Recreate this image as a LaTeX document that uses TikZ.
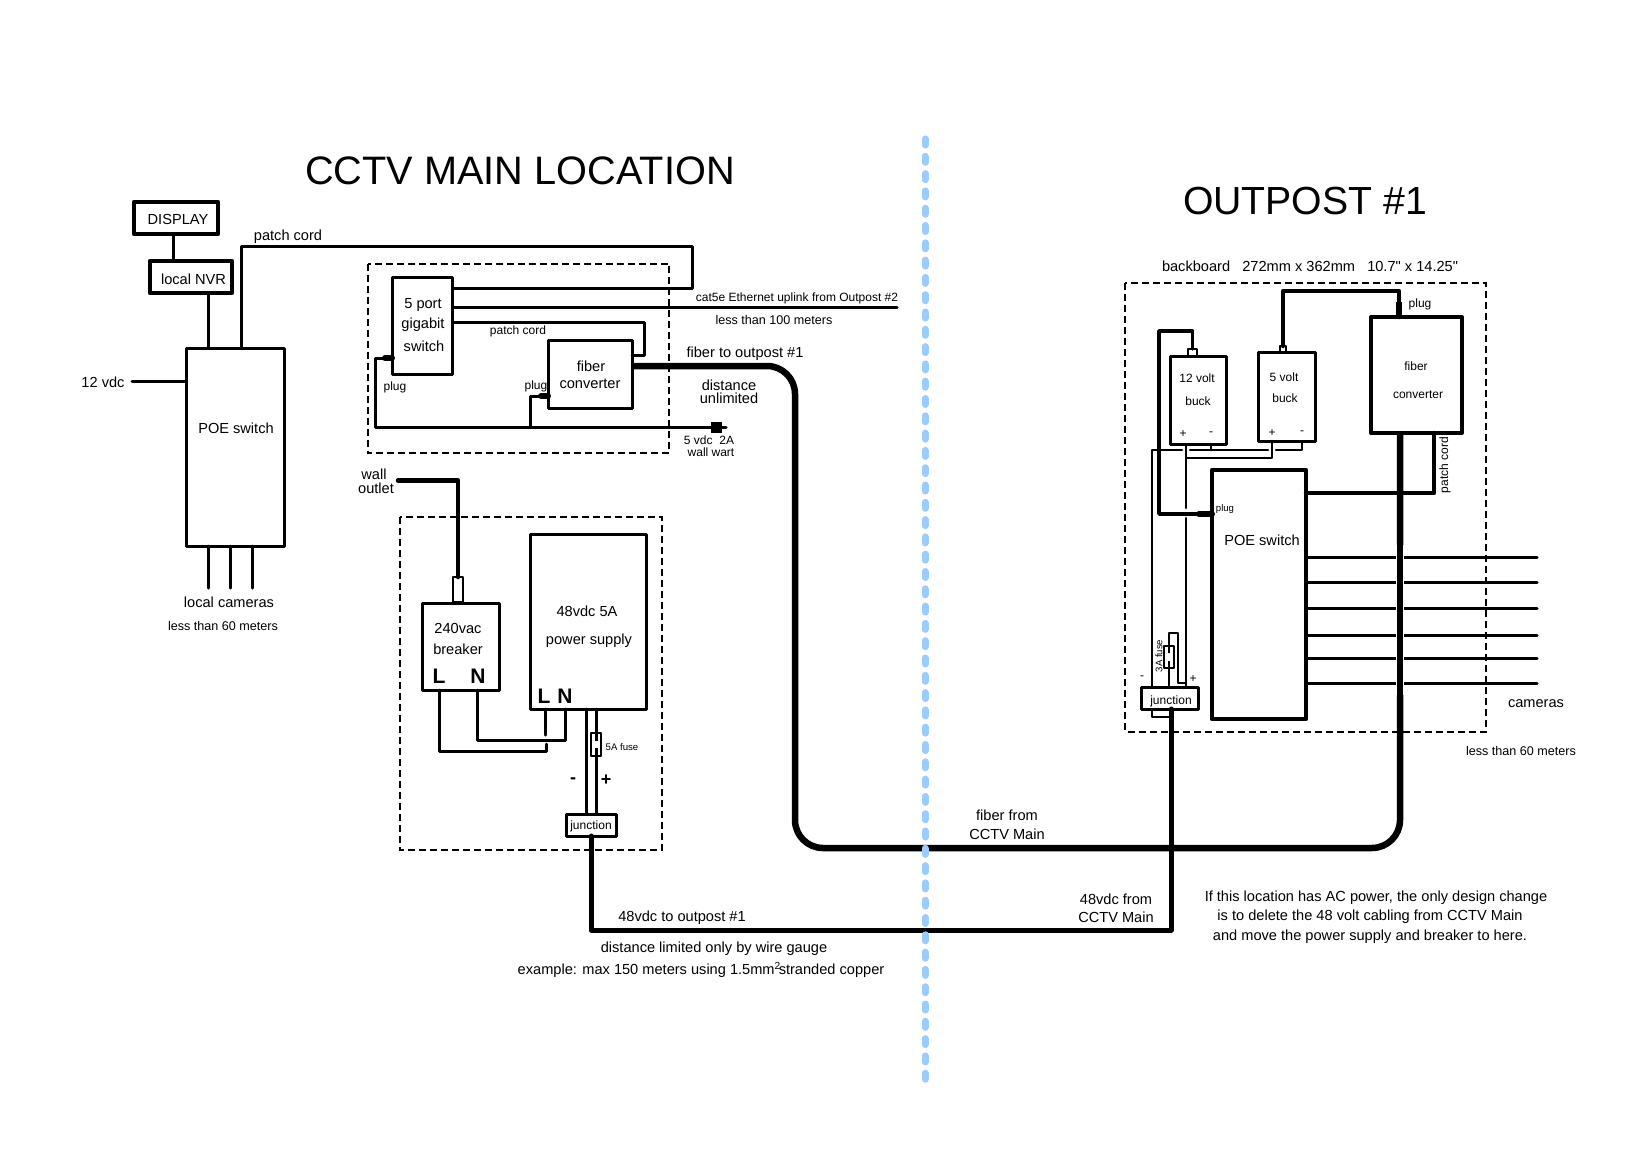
\documentclass[tikz,border=0pt]{standalone}
\usepackage{fontspec}
\setmainfont{Liberation Sans}
\newfontfamily\plainquote{Liberation Sans}
\usetikzlibrary{calc}
\definecolor{divider}{HTML}{99CCFF}
\newcommand{\hwbox}[6]{\node[hw,line width=#6pt,minimum width={(#4-#2)*1pt},minimum height={(#5-#3)*1pt}] (#1) at ({(#2+#4)/2},{(#3+#5)/2}) {};}
\tikzset{
  hw/.style={draw=black,fill=white,rectangle,inner sep=0pt,outer sep=0pt,line join=round},
  region/.style={draw=black,line width=2pt,dash pattern=on 7pt off 4pt},
  wire/.style={draw=black,line width=3pt,line join=round,line cap=round},
  thinwire/.style={draw=black,line width=2.5pt,line join=round,line cap=round},
  midwire/.style={draw=black,line width=4.5pt,line join=round,line cap=round},
  power/.style={draw=black,line width=5pt,line join=round,line cap=round},
  fibre/.style={draw=black,line width=6.5pt,line join=round,rounded corners=28pt},
  blob/.style={draw=black,line width=6pt,line cap=round},
  lbl/.style={inner sep=0pt,outer sep=0pt,text=black,align=center},
  title/.style={lbl,font=\fontsize{39.7}{42}\selectfont},
  big/.style={lbl,font=\fontsize{14.6}{16}\selectfont},
  mid/.style={lbl,font=\fontsize{12.6}{14}\selectfont},
  small/.style={lbl,font=\fontsize{12}{13}\selectfont},
  tiny/.style={lbl,font=\fontsize{9.6}{11}\selectfont},
  term/.style={lbl,font=\fontsize{21}{22}\bfseries\selectfont},
  sign/.style={lbl,font=\fontsize{18}{20}\bfseries\selectfont},
  smallsign/.style={lbl,font=\fontsize{12}{14}\selectfont}
}
\begin{document}
\begin{tikzpicture}[x=1pt,y=-1pt]
\useasboundingbox (0,0) rectangle (1625,1152);
\fill[white] (0,0) rectangle (1625,1152);

% dashed regions
\draw[region] (367.5,263.5) rectangle (669,453);
\draw[region] (400,517) rectangle (662,850);
\draw[region] (1125,283) rectangle (1486,731.5);

% free ends
\coordinate (in12) at (132,381);
\coordinate (uplinkend) at (897,307);
\coordinate (wartend) at (726,427);
\coordinate (outlet) at (398,480.5);
\foreach \n/\x in {1/208,2/230,3/252} \coordinate (lc\n) at (\x,588);
\foreach \n/\y in {1/557,2/582,3/608,4/635,5/658,6/683} \coordinate (cam\n) at (1537,\y);

% CCTV main boxes
\hwbox{display}{134}{202}{218}{234}{4.5}
\hwbox{nvr}{150}{261}{232}{293}{4.5}
\hwbox{poe}{186}{348}{284}{546}{3}
\hwbox{gsw}{392}{277}{452.5}{374}{3}
\hwbox{conv}{548}{340}{632}{408}{3}
\hwbox{breaker}{422}{603}{499}{690}{3}
\hwbox{psu}{530}{534}{646}{709}{3}
\hwbox{acplug}{453}{577}{463}{602}{2.5}
\hwbox{jm}{566}{814}{616}{836}{3}

% outpost boxes
\hwbox{fo}{1371}{317}{1462}{433}{4}
\hwbox{b5}{1258}{352}{1315}{441}{3}
\hwbox{b12}{1170}{356}{1226}{444}{3}
\hwbox{poeo}{1212}{470}{1306}{719}{4.5}
\hwbox{jo}{1141}{687}{1198}{709}{3}
\hwbox{p12}{1188}{349}{1197}{356}{2}
\hwbox{p5}{1280}{346}{1286}{352}{2}

% CCTV main connectors
\draw[wire] (173,0 |- display.south) -- (173,0 |- nvr.north);
\draw[wire] (208,0 |- nvr.south) -- (208,0 |- poe.north);
\draw[wire] (241,0 |- poe.north) |- (692,246) |- (gsw.east |- 0,288);
\draw[wire] (in12) -- (poe.west |- in12);
\foreach \n in {1,2,3} \draw[wire] (lc\n |- poe.south) -- (lc\n);
\draw[wire] (gsw.east |- uplinkend) -- (uplinkend);
\draw[wire] (gsw.east |- 0,322) -| (644,355) -- (conv.east |- 0,355);
\draw[wire] (gsw.west |- 0,358) -| (375,427) -- (wartend);
\draw[wire] (conv.west |- 0,396) -| (530,427);
\draw[blob] (385,358) -- (gsw.west |- 0,358);
\draw[blob] (541,396) -- (conv.west |- 0,396);
\fill[black] (711,422) rectangle (722,433);
\draw[fibre] (conv.east |- 0,366) -- (795,366) -- (795,848) -- (1400,848) -- (1400,0 |- fo.south);
\draw[midwire] (outlet) -| (acplug.north);
\draw[wire] (439,0 |- breaker.south) |- (546,751) -- (546,744);
\draw[wire] (545,0 |- psu.south) -- (545,735);
\draw[wire] (565,0 |- psu.south) |- (477.5,740) -- (477.5,0 |- breaker.south);
\draw[wire] (586,0 |- psu.south) -- (586,0 |- jm.north);
\draw[wire] (596,0 |- psu.south) -- (596,0 |- jm.north);
\hwbox{fm}{591}{733}{601}{756}{2}
\draw[wire,line cap=butt] (fm.north) -- ++(0,8);
\draw[wire,line cap=butt] (fm.south) -- ++(0,-8);
\draw[power] (jm.south) |- (1171,930) -- (1171,0 |- jo.south);

% outpost connectors
\draw[midwire] (p5.north) |- (1399,291) -- (1399,0 |- fo.north);
\draw[blob,line cap=butt] (1399,302) -- (1399,0 |- fo.north);
\draw[wire,line width=3.5pt] (p12.north) |- (1159,331) |- (poeo.west |- 0,514);
\draw[blob] (1199,514) -- (poeo.west |- 0,514);
\draw[midwire] (poeo.east |- 0,493) -| (1434,0 |- fo.south);
\foreach \n in {1,...,6} \draw[wire] (poeo.east |- cam\n) -- (cam\n);
\draw[draw=white,line width=8pt] (1400,545) -- (1400,695);
\draw[draw=black,line width=6.5pt] (1400,540) -- (1400,700);
\draw[thinwire] (1211,0 |- b12.south) -- (1211,450);
\draw[thinwire] (1302,0 |- b5.south) -- (1302,450) -- (1276,450);
\draw[thinwire] (1268,450) -- (1190,450);
\draw[thinwire] (1182,450) -- (1152,450) -- (1152,0 |- jo.north);
\draw[thinwire] (1272,0 |- b5.south) |- (1186,458);
\draw[thinwire] (1186,0 |- b12.south) -- (1186,508);
\draw[thinwire] (1186,518) -- (1186,0 |- jo.north);
\draw[thinwire] (1169,0 |- jo.north) |- (1178,633) |- (1186,683);
\draw[thinwire] (1152,0 |- jo.south) |- (1171,717);
\hwbox{fout}{1164}{646}{1174}{668}{2}
\draw[thinwire,line cap=butt] (fout.north) -- ++(0,7);
\draw[thinwire,line cap=butt] (fout.south) -- ++(0,-7);

% texts, main
\node[title] (t1) at (520,171) {CCTV MAIN LOCATION};
\node[big] (t2) at (178,219) {DISPLAY};
\node[big] (t3) at (193.5,279) {local NVR};
\node[big] (t4) at (288,237) {patch cord};
\node[big] (t5) at (103,382) {12 vdc};
\node[big] (t6) at (236,428) {POE switch};
\node[big] (t7) at (229,602) {local cameras};
\node[mid] (t8) at (223,626) {less than 60 meters};
\node[big] (t9) at (423,305) {5 port};
\node[big] (t10) at (423,325) {gigabit};
\node[big] (t11) at (424,346) {switch};
\node[small] (t12) at (518,331) {patch cord};
\node[big] (t13) at (591,366) {fiber};
\node[big] (t14) at (590,384) {converter};
\node[small] (t15) at (395,387) {plug};
\node[small] (t16) at (536,386) {plug};
\node[small] (t17) at (797,298) {cat5e Ethernet uplink from Outpost \#2};
\node[mid] (t18) at (774,320) {less than 100 meters};
\node[big] (t19) at (745,353.5) {fiber to outpost \#1};
\node[big] (t20) at (729,385) {distance};
\node[big] (t21) at (729,398) {unlimited};
\node[small] (t22) at (709,440) {5 vdc\ \ 2A};
\node[small] (t23) at (711,452) {wall wart};
\node[big] (t24) at (374,474) {wall};
\node[big] (t25) at (376,488) {outlet};
\node[big] (t26) at (458,628) {240vac};
\node[big] (t27) at (458,649) {breaker};
\node[term] (t28) at (439,676) {L};
\node[term] (t29) at (478,676) {N};
\node[big] (t30) at (587,611) {48vdc 5A};
\node[big] (t31) at (589,641) {power supply};
\node[term] (t32) at (544,696) {L};
\node[term] (t33) at (565,696) {N};
\node[tiny] (t34) at (622,747) {5A fuse};
\node[sign] (t35) at (573,781) {-};
\node[sign] (t36) at (606,780) {+};
\node[small] (t37) at (591,826) {junction};
\node[big] (t38) at (682,917.5) {48vdc to outpost \#1};
\node[big] (t39) at (714,949) {distance limited only by wire gauge};
\node[big] (t40) at (701,970) {example: max 150 meters using 1.5mm\rlap{\raisebox{0.5pt}{\textsuperscript{2}}} stranded copper};

% texts, outpost
\node[lbl,font=\fontsize{39.2}{42}\selectfont] (t41) at (1305,201) {OUTPOST \#1};
\node[big] (t42) at (1310,266) {backboard\ \ \ 272mm x 362mm\ \ \ {\plainquote 10.7" x 14.25"}};
\node[small] (t43) at (1420,304) {plug};
\node[small] (t44) at (1416,366) {fiber};
\node[small] (t45) at (1418,395) {converter};
\node[small] (t46) at (1197,378) {12 volt};
\node[small] (t47) at (1198,401) {buck};
\node[small] (t48) at (1284,377) {5 volt};
\node[small] (t49) at (1285,398) {buck};
\node[smallsign] (t50) at (1183,434) {+};
\node[smallsign] (t51) at (1211,434) {-};
\node[smallsign] (t52) at (1272,433) {+};
\node[smallsign] (t53) at (1302,433) {-};
\node[small,rotate=90] (t54) at (1445,465) {patch cord};
\node[tiny] (t55) at (1225,509) {plug};
\node[big] (t56) at (1262,540) {POE switch};
\node[tiny,rotate=90] (t57) at (1159,656) {3A fuse};
\node[smallsign] (t58) at (1142,678) {-};
\node[smallsign] (t59) at (1193,679) {+};
\node[small] (t60) at (1171,701) {junction};
\node[big] (t61) at (1536,704) {cameras};
\node[mid] (t62) at (1521,751) {less than 60 meters};
\node[big] (t63) at (1007,815) {fiber from};
\node[big] (t64) at (1007,834) {CCTV Main};
\node[big] (t65) at (1116,899) {48vdc from};
\node[big] (t66) at (1116,917) {CCTV Main};
\node[big] (t67) at (1376,898) {If this location has AC power, the only design change};
\node[big] (t68) at (1370,917) {is to delete the 48 volt cabling from CCTV Main};
\node[big] (t69) at (1370,937) {and move the power supply and breaker to here.};

% divider
\draw[divider,line width=7pt,line cap=round,dash pattern=on 6pt off 11.3pt] (925,139) -- (925,1082);
\end{tikzpicture}
\end{document}
